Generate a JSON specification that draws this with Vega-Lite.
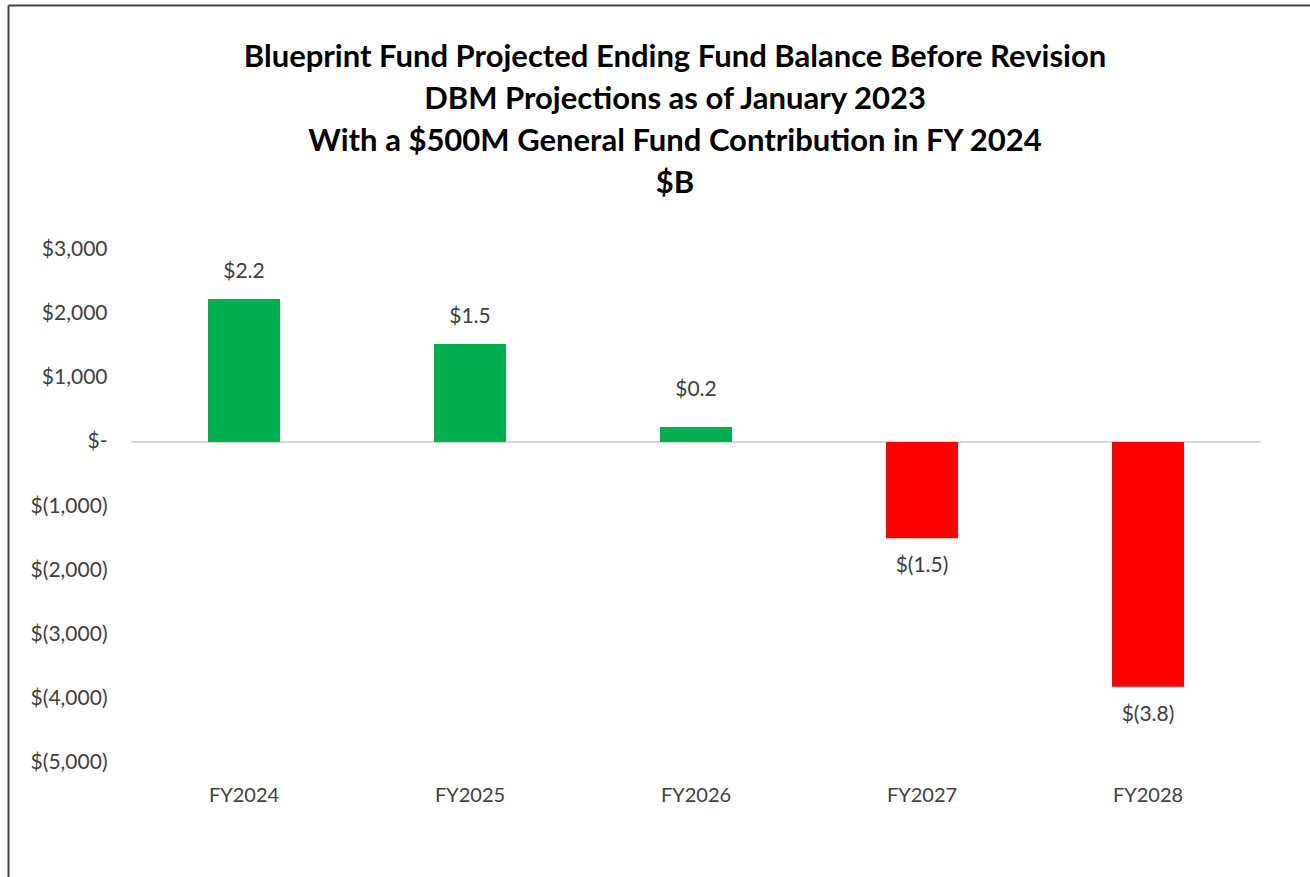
{
  "$schema": "https://vega.github.io/schema/vega-lite/v6.json",
  "width": 1302,
  "height": 872,
  "autosize": {"type": "none"},
  "padding": {"left": 8, "top": 5, "right": 0, "bottom": 0},
  "background": "white",
  "config": {"view": {"stroke": null}, "font": "Lato"},
  "title": {
    "text": ["Blueprint Fund Projected Ending Fund Balance Before Revision", "DBM Projections as of January 2023", "With a $500M General Fund Contribution in FY 2024", "$B"],
    "font": "Lato",
    "fontSize": 31,
    "fontWeight": "bold",
    "color": "#000000",
    "lineHeight": 42,
    "anchor": "middle",
    "frame": "group",
    "dx": 16,
    "baseline": "top",
    "offset": -195
  },
  "data": {
    "values": [
      {"year": "FY2024", "value": 2230, "label": "$2.2"},
      {"year": "FY2025", "value": 1530, "label": "$1.5"},
      {"year": "FY2026", "value": 235, "label": "$0.2"},
      {"year": "FY2027", "value": -1500, "label": "$(1.5)"},
      {"year": "FY2028", "value": -3820, "label": "$(3.8)"}
    ]
  },
  "encoding": {
    "x": {
      "field": "year",
      "type": "nominal",
      "sort": null,
      "scale": {"domain": ["FY2024", "FY2025", "FY2026", "FY2027", "FY2028"], "paddingInner": 0.6814, "paddingOuter": 0.7212, "align": 0.6135},
      "axis": {
        "orient": "top",
        "title": null,
        "domain": true,
        "domainColor": "#404040",
        "domainWidth": 2,
        "ticks": false,
        "tickSize": 0,
        "labelPadding": -790,
        "labelBaseline": "middle",
        "labelAngle": 0,
        "labelFont": "Lato",
        "labelFontSize": 20,
        "labelColor": "#404040"
      }
    },
    "y": {
      "field": "value",
      "type": "quantitative",
      "scale": {"domain": [-6786, 6817], "nice": false, "zero": false},
      "axis": {
        "title": null,
        "orient": "left",
        "grid": false,
        "domain": true,
        "domainColor": "#404040",
        "domainWidth": 2,
        "ticks": false,
        "tickSize": 0,
        "values": [-5000, -4000, -3000, -2000, -1000, 0, 1000, 2000, 3000],
        "labelAlign": "right",
        "labelBaseline": "middle",
        "labelPadding": -99,
        "labelFont": "Lato",
        "labelFontSize": 21,
        "labelColor": "#404040",
        "labelExpr": "datum.value == 0 ? '$-\u00a0\u00a0\u00a0' : (datum.value < 0 ? '$(' + format(-datum.value, ',') + ')' : '$' + format(datum.value, ',') + '\u00a0')"
      }
    }
  },
  "layer": [
    {
      "mark": {"type": "rule", "color": "#D9D9D9", "strokeWidth": 2},
      "encoding": {
        "x": {"datum": "FY2024", "type": "nominal", "bandPosition": -1.0694},
        "x2": {"datum": "FY2028", "bandPosition": 2.0694},
        "y": {"datum": 0, "type": "quantitative"}
      }
    },
    {
      "mark": {"type": "bar"},
      "encoding": {
        "color": {
          "condition": {"test": "datum.value < 0", "value": "#FF0000"},
          "value": "#00B050"
        }
      }
    },
    {
      "transform": [{"filter": "datum.value >= 0 && datum.year != 'FY2026'"}],
      "mark": {"type": "text", "baseline": "middle", "dy": -27, "font": "Lato", "fontSize": 21, "color": "#404040"},
      "encoding": {"text": {"field": "label"}}
    },
    {
      "transform": [{"filter": "datum.year == 'FY2026'"}],
      "mark": {"type": "text", "baseline": "middle", "dy": -37, "font": "Lato", "fontSize": 21, "color": "#404040"},
      "encoding": {"text": {"field": "label"}}
    },
    {
      "transform": [{"filter": "datum.value < 0"}],
      "mark": {"type": "text", "baseline": "middle", "dy": 28, "font": "Lato", "fontSize": 21, "color": "#404040"},
      "encoding": {"text": {"field": "label"}}
    }
  ]
}
